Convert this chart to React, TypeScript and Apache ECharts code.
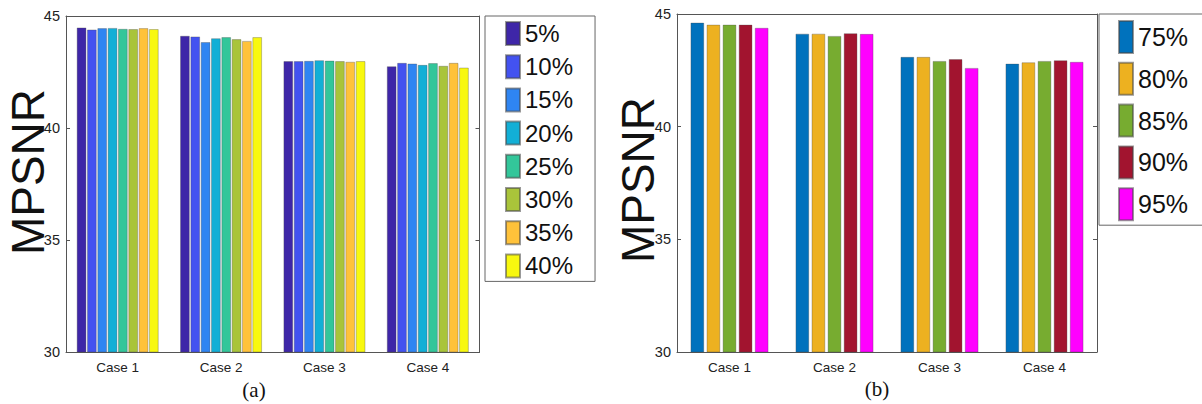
import React, { useEffect, useRef } from "react";
import * as echarts from "echarts";

// Categories shared by both panels
const cases = ["Case 1", "Case 2", "Case 3", "Case 4"];

// Panel (a): MPSNR per sampling rate, values for Case 1..4
const ratesA = ["5%", "10%", "15%", "20%", "25%", "30%", "35%", "40%"];
const valuesA = [
  [44.48, 44.11, 42.98, 42.75],
  [44.39, 44.08, 42.98, 42.9],
  [44.45, 43.83, 42.99, 42.87],
  [44.46, 44.0, 43.02, 42.81],
  [44.42, 44.05, 43.0, 42.89],
  [44.41, 43.96, 42.98, 42.77],
  [44.45, 43.88, 42.95, 42.9],
  [44.41, 44.05, 42.98, 42.69],
];
const colorsA = ["#3e26a8", "#4352f0", "#2f85f2", "#12afd6", "#33c69a", "#a9c43a", "#ffc23a", "#f8f80f"];

// Panel (b): MPSNR per ratio, values for Case 1..4
const ratesB = ["75%", "80%", "85%", "90%", "95%"];
const valuesB = [
  [44.61, 44.12, 43.09, 42.79],
  [44.52, 44.12, 43.09, 42.85],
  [44.52, 44.02, 42.91, 42.91],
  [44.52, 44.14, 42.99, 42.94],
  [44.38, 44.11, 42.6, 42.87],
];
const colorsB = ["#0072bd", "#edb120", "#77ac30", "#a2142f", "#ff00ff"];

// Value axis ticks
const yMin = 30;
const yMax = 45;
const yStep = 5;

const axisColor = "#555";
const textColor = "#222";
const sans = "Liberation Sans, Arial, Helvetica, sans-serif";
const serif = "Liberation Serif, Times New Roman, serif";

function boxAxes(gridIndex: number) {
  const x = [
    {
      gridIndex,
      type: "category",
      data: cases,
      position: "bottom",
      axisLine: { lineStyle: { color: axisColor, width: 1 } },
      axisTick: { inside: true, alignWithLabel: true, length: 4, lineStyle: { color: axisColor } },
      axisLabel: { color: textColor, fontSize: 13.5, fontFamily: sans, margin: 8 },
      splitLine: { show: false },
    },
    {
      gridIndex,
      type: "category",
      data: cases,
      position: "top",
      axisLine: { lineStyle: { color: axisColor, width: 1 } },
      axisTick: { inside: true, alignWithLabel: true, length: 4, lineStyle: { color: axisColor } },
      axisLabel: { show: false },
      splitLine: { show: false },
    },
  ];
  const y = [
    {
      gridIndex,
      type: "value",
      min: yMin,
      max: yMax,
      interval: yStep,
      position: "left",
      axisLine: { show: true, lineStyle: { color: axisColor, width: 1 } },
      axisTick: { show: true, inside: true, length: 4, lineStyle: { color: axisColor } },
      axisLabel: { color: textColor, fontSize: 14.5, fontFamily: sans, margin: 6 },
      splitLine: { show: false },
    },
    {
      gridIndex,
      type: "value",
      min: yMin,
      max: yMax,
      interval: yStep,
      position: "right",
      axisLine: { show: true, lineStyle: { color: axisColor, width: 1 } },
      axisTick: { show: true, inside: true, length: 4, lineStyle: { color: axisColor } },
      axisLabel: { show: false },
      splitLine: { show: false },
    },
  ];
  return { x, y };
}

export default function App() {
  const ref = useRef<HTMLDivElement>(null);

  useEffect(() => {
    if (!ref.current) return;
    const chart = echarts.init(ref.current, undefined, { renderer: "svg" });

    const a = boxAxes(0);
    const b = boxAxes(1);

    const seriesA = ratesA.map((name, i) => ({
      name,
      type: "bar",
      xAxisIndex: 0,
      yAxisIndex: 0,
      data: valuesA[i],
      barCategoryGap: "21%",
      barGap: "10%",
      itemStyle: { color: colorsA[i], borderColor: "rgba(70,70,70,0.55)", borderWidth: 0.6 },
    }));
    const seriesB = ratesB.map((name, i) => ({
      name,
      type: "bar",
      xAxisIndex: 2,
      yAxisIndex: 2,
      data: valuesB[i],
      barCategoryGap: "26%",
      barGap: "20%",
      itemStyle: { color: colorsB[i], borderColor: "rgba(70,70,70,0.55)", borderWidth: 0.6 },
    }));

    const legendBase = {
      orient: "vertical",
      selectedMode: false,
      icon: "rect",
      itemWidth: 14,
      backgroundColor: "#fff",
      borderColor: "#666",
      borderWidth: 1,
      borderRadius: 0,
      textStyle: { fontSize: 24, fontFamily: sans, color: "#111" },
    };

    chart.setOption({
      animation: false,
      backgroundColor: "#fff",
      grid: [
        { left: 66, top: 16, width: 413.5, height: 336 },
        { left: 677, top: 14, width: 420, height: 338 },
      ],
      xAxis: [...a.x, ...b.x],
      yAxis: [...a.y, ...b.y],
      legend: [
        {
          ...legendBase,
          data: ratesA,
          left: 485,
          top: 16,
          itemHeight: 23,
          itemGap: 8.2,
          padding: [5, 22, 3, 20],
        },
        {
          ...legendBase,
          data: ratesB,
          left: 1099,
          top: 14,
          itemHeight: 32,
          itemGap: 7.8,
          padding: [6, 40, 4, 19],
          textStyle: { fontSize: 25, fontFamily: sans, color: "#111" },
        },
      ],
      graphic: [
        {
          type: "text",
          x: 28,
          y: 172,
          rotation: Math.PI / 2,
          style: { text: "MPSNR", fontSize: 46, fontFamily: sans, fill: "#111", textAlign: "center", textVerticalAlign: "middle" },
        },
        {
          type: "text",
          x: 638,
          y: 180,
          rotation: Math.PI / 2,
          style: { text: "MPSNR", fontSize: 46, fontFamily: sans, fill: "#111", textAlign: "center", textVerticalAlign: "middle" },
        },
        {
          type: "text",
          x: 254,
          y: 390,
          style: { text: "(a)", fontSize: 21, fontFamily: serif, fill: "#111", textAlign: "center", textVerticalAlign: "middle" },
        },
        {
          type: "text",
          x: 877,
          y: 389,
          style: { text: "(b)", fontSize: 21, fontFamily: serif, fill: "#111", textAlign: "center", textVerticalAlign: "middle" },
        },
      ],
      series: [...seriesA, ...seriesB],
    });

    return () => chart.dispose();
  }, []);

  return (
    <div
      ref={ref}
      style={{ position: "fixed", left: 0, top: 0, width: 1202, height: 404 }}
    />
  );
}
